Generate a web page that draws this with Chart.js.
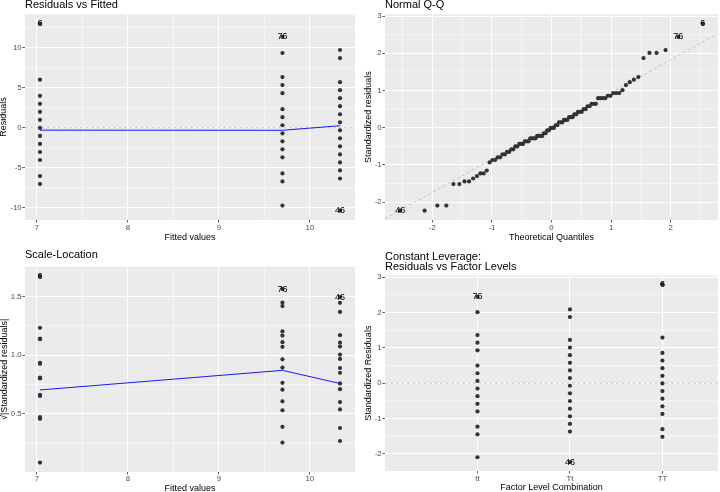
<!DOCTYPE html>
<html>
<head>
<meta charset="utf-8">
<title>lm diagnostics</title>
<script src="https://cdn.jsdelivr.net/npm/chart.js@4.4.7/dist/chart.umd.min.js"></script>
<style>
  html, body { margin: 0; padding: 0; background: #fff; }
  .panel { position: absolute; width: 360px; height: 246px; }
</style>
</head>
<body>
<div class="panel" style="left:0;top:0"><canvas id="residChart" width="360" height="246"></canvas></div>
<div class="panel" style="left:360px;top:0"><canvas id="qqChart" width="360" height="246"></canvas></div>
<div class="panel" style="left:0;top:246px"><canvas id="scaleChart" width="360" height="246"></canvas></div>
<div class="panel" style="left:360px;top:246px"><canvas id="levelChart" width="360" height="246"></canvas></div>
<script>
// factor levels and their fitted values (group means)
var levels = ["tt", "Tt", "TT"];
var fittedByLevel = [9.7, 10.333, 7.033];

// raw residuals per level (distinct values seen in the plot)
var resid_tt = [11.3, 9.3, 6.3, 5.3, 4.3, 2.3, 1.3, 0.3, -0.7, -1.7, -2.7, -3.7, -5.7, -6.7, -9.7];
var resid_Tt = [9.67, 8.67, 5.67, 4.67, 3.67, 2.67, 1.67, 0.67, -0.33, -1.33, -2.33, -3.33, -4.33, -5.33, -6.33, -10.33];
var resid_TT = [12.97, 5.97, 3.97, 2.97, 1.97, 0.97, -0.03, -1.03, -2.03, -3.03, -4.03, -6.03, -7.03];

// standardized residuals per level
var std_tt = [2.44, 2.01, 1.36, 1.145, 0.929, 0.497, 0.281, 0.065, -0.151, -0.367, -0.583, -0.799, -1.231, -1.447, -2.095];
var std_Tt = [2.088, 1.872, 1.224, 1.008, 0.792, 0.576, 0.36, 0.144, -0.072, -0.288, -0.504, -0.72, -0.936, -1.152, -1.368, -2.232];
var std_TT = [2.8, 1.29, 0.857, 0.641, 0.425, 0.209, -0.007, -0.222, -0.438, -0.654, -0.87, -1.302, -1.518];

// sqrt(|standardized residuals|) per level
var sqrt_tt = [1.562, 1.418, 1.166, 1.07, 0.964, 0.705, 0.53, 0.255, 0.389, 0.606, 0.764, 0.894, 1.11, 1.203, 1.447];
var sqrt_Tt = [1.445, 1.368, 1.106, 1.004, 0.89, 0.759, 0.6, 0.379, 0.268, 0.537, 0.71, 0.849, 0.967, 1.073, 1.17, 1.494];
var sqrt_TT = [1.673, 1.136, 0.926, 0.801, 0.652, 0.457, 0.084, 0.471, 0.662, 0.809, 0.933, 1.141, 1.232];

// normal Q-Q: theoretical quantiles and sorted standardized residuals (n = 90)
var qqTheory = [-2.539, -2.128, -1.915, -1.764, -1.645, -1.545, -1.459, -1.383, -1.314, -1.25,
  -1.192, -1.137, -1.085, -1.036, -0.99, -0.946, -0.903, -0.862, -0.822, -0.783,
  -0.746, -0.71, -0.674, -0.64, -0.606, -0.573, -0.54, -0.508, -0.477, -0.446,
  -0.415, -0.385, -0.355, -0.326, -0.297, -0.268, -0.239, -0.21, -0.182, -0.154,
  -0.126, -0.098, -0.07, -0.042, -0.014, 0.014, 0.042, 0.07, 0.098, 0.126,
  0.154, 0.182, 0.21, 0.239, 0.268, 0.297, 0.326, 0.355, 0.385, 0.415,
  0.446, 0.477, 0.508, 0.54, 0.573, 0.606, 0.64, 0.674, 0.71, 0.746,
  0.783, 0.822, 0.862, 0.903, 0.946, 0.99, 1.036, 1.085, 1.137, 1.192,
  1.25, 1.314, 1.383, 1.459, 1.545, 1.645, 1.764, 1.915, 2.128, 2.539];
var qqSample = [-2.232, -2.232, -2.095, -2.095, -1.518, -1.518, -1.447, -1.447, -1.368, -1.302,
  -1.231, -1.231, -1.152, -0.936, -0.87, -0.87, -0.799, -0.799, -0.72, -0.72,
  -0.654, -0.654, -0.583, -0.583, -0.504, -0.504, -0.438, -0.438, -0.438, -0.367,
  -0.367, -0.367, -0.288, -0.288, -0.288, -0.288, -0.222, -0.222, -0.222, -0.222,
  -0.151, -0.151, -0.072, -0.072, -0.007, -0.007, -0.007, 0.065, 0.065, 0.144,
  0.144, 0.144, 0.209, 0.209, 0.209, 0.281, 0.281, 0.281, 0.36, 0.36,
  0.425, 0.425, 0.425, 0.497, 0.497, 0.576, 0.576, 0.641, 0.641, 0.641,
  0.792, 0.792, 0.792, 0.792, 0.857, 0.857, 0.929, 0.929, 0.929, 1.008,
  1.145, 1.224, 1.29, 1.36, 1.872, 2.01, 2.01, 2.088, 2.44, 2.8];
var qqLineX = [-2.793, 2.793];
var qqLineY = [-2.45, 2.53];

// smoother through the fitted values
var smoothX = [7.033, 9.7, 10.333];
var smoothResid = [-0.31, -0.33, 0.24];
var smoothSqrt = [0.703, 0.87, 0.758];

// the three labelled observations
var labelText = ["76", "46", "6"];
var labelLevel = [0, 1, 2];
var labelResid = [11.3, -10.33, 12.97];
var labelStd = [2.44, -2.232, 2.8];
var labelSqrt = [1.562, 1.494, 1.673];
var labelQQ = [2.128, -2.539, 2.539];

// axis limits and breaks
var fitRange = [6.868, 10.498];
var fitTicks = [7, 8, 9, 10];
var fitMinor = [7.5, 8.5, 9.5];
var residRange = [-11.5, 14.13];
var residTicks = [-10, -5, 0, 5, 10];
var residMinor = [-7.5, -2.5, 2.5, 7.5, 12.5];
var qqXRange = [-2.793, 2.793];
var qqXTicks = [-2, -1, 0, 1, 2];
var qqXMinor = [-2.5, -1.5, -0.5, 0.5, 1.5, 2.5];
var stdRange = [-2.484, 3.052];
var stdTicks = [-2, -1, 0, 1, 2, 3];
var stdMinor = [-1.5, -0.5, 0.5, 1.5, 2.5];
var sqrtRange = [0.004, 1.753];
var sqrtTicks = [0.5, 1, 1.5];
var sqrtMinor = [0.25, 0.75, 1.25];
var levelRange = [0, 3.6];
var levelTicks = [1, 2, 3];

var FONT = "'Liberation Sans', Arial, sans-serif";
Chart.defaults.font.family = FONT;

var panelBg = {
  id: "panelBg",
  beforeDraw: function (chart) {
    var a = chart.chartArea, ctx = chart.ctx;
    ctx.save();
    ctx.fillStyle = "#EBEBEB";
    ctx.fillRect(a.left, a.top, a.right - a.left, a.bottom - a.top);
    ctx.restore();
  }
};

var minorGrid = {
  id: "minorGrid",
  beforeDatasetsDraw: function (chart, args, opts) {
    var a = chart.chartArea, ctx = chart.ctx;
    ctx.save();
    ctx.strokeStyle = "#ffffff";
    ctx.lineWidth = 0.55;
    ctx.beginPath();
    (opts.x || []).forEach(function (v) {
      var px = chart.scales.x.getPixelForValue(v);
      ctx.moveTo(px, a.top); ctx.lineTo(px, a.bottom);
    });
    (opts.y || []).forEach(function (v) {
      var py = chart.scales.y.getPixelForValue(v);
      ctx.moveTo(a.left, py); ctx.lineTo(a.right, py);
    });
    ctx.stroke();
    ctx.restore();
  }
};

var obsLabels = {
  id: "obsLabels",
  afterDatasetsDraw: function (chart) {
    var ctx = chart.ctx;
    chart.data.datasets.forEach(function (ds, i) {
      if (!ds.obsText) return;
      var meta = chart.getDatasetMeta(i);
      ctx.save();
      ctx.font = "9px " + FONT;
      ctx.fillStyle = "#000";
      ctx.textAlign = "center";
      ctx.textBaseline = "middle";
      meta.data.forEach(function (pt, j) { ctx.fillText(ds.obsText[j], pt.x, pt.y); });
      ctx.restore();
    });
  }
};

function axis(o) {
  return {
    type: "linear",
    min: o.range[0],
    max: o.range[1],
    afterBuildTicks: function (s) { s.ticks = o.ticks.map(function (v) { return { value: v }; }); },
    afterFit: function (s) {
      if (s.isHorizontal()) s.height = o.size; else s.width = o.size;
    },
    grid: { color: "#ffffff", lineWidth: 1, drawTicks: true, tickLength: 2.5, tickColor: "#333333", tickWidth: 0.8 },
    border: { display: false },
    ticks: {
      color: "#4D4D4D",
      font: { size: 7.8 },
      padding: o.tickPad,
      autoSkip: false,
      maxRotation: 0,
      callback: o.fmt || function (v) { return String(v); }
    },
    title: { display: true, text: o.title, color: "#000", font: { size: 9, lineHeight: 1 }, padding: o.titlePad }
  };
}

function pointSet(data) {
  return {
    data: data,
    pointRadius: 2.1,
    pointHoverRadius: 2.1,
    pointBackgroundColor: "#333333",
    pointBorderColor: "#333333",
    pointBorderWidth: 0
  };
}

function lineSet(xs, ys, color, width, dash) {
  return {
    data: xs.map(function (x, i) { return { x: x, y: ys[i] }; }),
    showLine: true,
    pointRadius: 0,
    borderColor: color,
    borderWidth: width,
    borderDash: dash || [],
    fill: false
  };
}

function labelSet(xs, ys) {
  return {
    data: xs.map(function (x, i) { return { x: x, y: ys[i] }; }),
    pointRadius: 0,
    obsText: labelText
  };
}

function byLevel(xs, arrays) {
  var out = [];
  arrays.forEach(function (vals, k) {
    vals.forEach(function (v) { out.push({ x: xs[k], y: v }); });
  });
  return out;
}

function makeChart(id, p, datasets) {
  return new Chart(document.getElementById(id), {
    type: "scatter",
    data: { datasets: datasets },
    options: {
      responsive: false,
      animation: false,
      events: [],
      layout: { padding: { left: 0, right: p.padRight, top: 0, bottom: 0 } },
      plugins: {
        legend: { display: false },
        tooltip: { enabled: false },
        title: {
          display: true, text: p.title, align: "start", fullSize: false, color: "#000",
          font: { size: 11, weight: "normal", lineHeight: 0.964 }, padding: p.titlePad
        },
        minorGrid: { x: p.xMinor, y: p.yMinor }
      },
      scales: { x: axis(p.x), y: axis(p.y) }
    },
    plugins: [panelBg, minorGrid, obsLabels]
  });
}

var grey = "#A6A6A6";
var fittedLabelX = labelLevel.map(function (k) { return fittedByLevel[k]; });
var levelLabelX = labelLevel.map(function (k) { return levelTicks[k]; });

makeChart("residChart", {
  title: "Residuals vs Fitted", titlePad: { top: 0, bottom: 3.6 }, padRight: 5,
  xMinor: fitMinor, yMinor: residMinor,
  x: { range: fitRange, ticks: fitTicks, size: 26, tickPad: 1.1, title: "Fitted values", titlePad: { top: 0, bottom: 3.7 } },
  y: { range: residRange, ticks: residTicks, size: 25, tickPad: 0.8, title: "Residuals", titlePad: { top: -0.8, bottom: 0 } }
}, [
  lineSet(smoothX, smoothResid, "#0000FF", 0.9),
  labelSet(fittedLabelX, labelResid),
  pointSet(byLevel(fittedByLevel, [resid_tt, resid_Tt, resid_TT])),
  lineSet(fitRange, [0, 0], grey, 0.6, [3, 2.5])
]);

makeChart("qqChart", {
  title: "Normal Q-Q", titlePad: { top: 0, bottom: 3.6 }, padRight: 0,
  xMinor: qqXMinor, yMinor: stdMinor,
  x: { range: qqXRange, ticks: qqXTicks, size: 26, tickPad: 1.1, title: "Theoretical Quantiles", titlePad: { top: 0, bottom: 3.7 } },
  y: { range: stdRange, ticks: stdTicks, size: 25, tickPad: 0.8, title: "Standardized residuals", titlePad: { top: 3.8, bottom: 0 } }
}, [
  labelSet(labelQQ, labelStd),
  pointSet(qqTheory.map(function (x, i) { return { x: x, y: qqSample[i] }; })),
  lineSet(qqLineX, qqLineY, grey, 0.6, [3, 2.5])
]);

makeChart("scaleChart", {
  title: "Scale-Location", titlePad: { top: 3.4, bottom: 6.7 }, padRight: 5,
  xMinor: fitMinor, yMinor: sqrtMinor,
  x: { range: fitRange, ticks: fitTicks, size: 20, tickPad: -0.7, title: "Fitted values", titlePad: { top: 0, bottom: -1 } },
  y: {
    range: sqrtRange, ticks: sqrtTicks, size: 25, tickPad: 0.8, title: "\u221A|Standardized residuals|", titlePad: { top: 0.5, bottom: 0 },
    fmt: function (v) { return v.toFixed(1); }
  }
}, [
  lineSet(smoothX, smoothSqrt, "#0000FF", 0.9),
  labelSet(fittedLabelX, labelSqrt),
  pointSet(byLevel(fittedByLevel, [sqrt_tt, sqrt_Tt, sqrt_TT]))
]);

makeChart("levelChart", {
  title: ["Constant Leverage:", "Residuals vs Factor Levels"], titlePad: { top: 5.3, bottom: 2.8 }, padRight: 0,
  xMinor: [], yMinor: stdMinor,
  x: {
    range: levelRange, ticks: levelTicks, size: 21, tickPad: 0.3, title: "Factor Level Combination", titlePad: { top: 0, bottom: -0.3 },
    fmt: function (v) { return levels[v - 1]; }
  },
  y: { range: stdRange, ticks: stdTicks, size: 25, tickPad: 0.8, title: "Standardized Residuals", titlePad: { top: 3.8, bottom: 0 } }
}, [
  labelSet(levelLabelX, labelStd),
  pointSet(byLevel(levelTicks, [std_tt, std_Tt, std_TT])),
  lineSet(levelRange, [0, 0], grey, 0.6, [3, 2.5])
]);
</script>
</body>
</html>
